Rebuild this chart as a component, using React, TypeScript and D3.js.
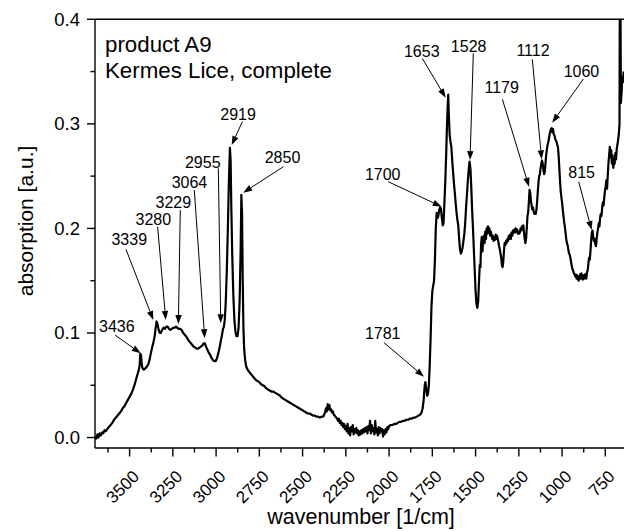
import React from 'react';
import * as d3 from 'd3';

// spectrum (wavenumber in 1/cm, absorption in a.u.)
const wavenumbers = [
  3700, 3693, 3686, 3680, 3673, 3666, 3659, 3652, 3645, 3638, 3630, 3620, 3610, 3600, 3590, 3580, 3570, 3560, 3550, 3540,
  3530, 3520, 3510, 3500, 3490, 3480, 3470, 3462, 3455, 3448, 3442, 3438, 3434, 3430, 3425, 3418, 3410, 3400, 3392, 3385,
  3378, 3370, 3362, 3355, 3350, 3344, 3338, 3332, 3326, 3320, 3312, 3304, 3296, 3288, 3280, 3272, 3264, 3256, 3248, 3240,
  3232, 3224, 3216, 3208, 3200, 3190, 3180, 3170, 3160, 3150, 3140, 3130, 3120, 3112, 3104, 3096, 3088, 3080, 3072, 3065,
  3058, 3050, 3042, 3034, 3026, 3018, 3010, 3002, 2995, 2988, 2980, 2972, 2966, 2960, 2955, 2950, 2944, 2938, 2932, 2926,
  2920, 2916, 2912, 2906, 2900, 2894, 2888, 2882, 2876, 2870, 2864, 2858, 2854, 2850, 2846, 2842, 2838, 2832, 2826, 2818,
  2810, 2800, 2790, 2780, 2770, 2760, 2750, 2740, 2730, 2720, 2710, 2700, 2690, 2680, 2670, 2660, 2650, 2640, 2630, 2620,
  2610, 2600, 2590, 2580, 2570, 2560, 2550, 2540, 2530, 2520, 2510, 2500, 2490, 2480, 2470, 2460, 2450, 2440, 2430, 2420,
  2410, 2400, 2390, 2380, 2370, 2365, 2360, 2355, 2350, 2345, 2340, 2335, 2330, 2325, 2320, 2310, 2300, 2295, 2290, 2285,
  2280, 2275, 2270, 2265, 2260, 2255, 2250, 2245, 2240, 2235, 2230, 2225, 2220, 2215, 2210, 2205, 2200, 2195, 2190, 2185,
  2180, 2175, 2170, 2165, 2160, 2155, 2150, 2145, 2140, 2135, 2130, 2125, 2120, 2115, 2110, 2105, 2100, 2095, 2090, 2085,
  2080, 2075, 2070, 2065, 2060, 2055, 2050, 2045, 2040, 2035, 2030, 2025, 2020, 2015, 2010, 2005, 2000, 1990, 1980, 1970,
  1960, 1950, 1940, 1930, 1920, 1910, 1900, 1890, 1880, 1870, 1860, 1850, 1840, 1830, 1820, 1812, 1806, 1800, 1794, 1790,
  1786, 1780, 1775, 1770, 1765, 1760, 1755, 1750, 1745, 1740, 1735, 1730, 1725, 1720, 1715, 1710, 1705, 1700, 1695, 1690,
  1685, 1680, 1675, 1670, 1665, 1661, 1658, 1655, 1650, 1645, 1640, 1635, 1630, 1625, 1620, 1615, 1610, 1605, 1600, 1595,
  1590, 1585, 1580, 1575, 1570, 1565, 1560, 1555, 1550, 1545, 1540, 1535, 1530, 1525, 1520, 1515, 1510, 1505, 1500, 1495,
  1490, 1485, 1480, 1476, 1472, 1468, 1464, 1460, 1456, 1452, 1448, 1444, 1440, 1436, 1432, 1428, 1424, 1420, 1416, 1412,
  1408, 1404, 1400, 1396, 1392, 1388, 1384, 1380, 1376, 1372, 1368, 1364, 1360, 1356, 1352, 1348, 1344, 1340, 1336, 1332,
  1328, 1324, 1320, 1316, 1312, 1308, 1304, 1300, 1296, 1292, 1288, 1284, 1280, 1276, 1272, 1268, 1264, 1260, 1256, 1252,
  1248, 1244, 1240, 1236, 1232, 1228, 1224, 1220, 1216, 1212, 1208, 1204, 1200, 1196, 1192, 1188, 1184, 1180, 1176, 1172,
  1168, 1164, 1160, 1156, 1152, 1148, 1144, 1140, 1136, 1132, 1128, 1124, 1120, 1116, 1112, 1108, 1104, 1100, 1096, 1092,
  1088, 1084, 1080, 1076, 1072, 1068, 1064, 1060, 1056, 1052, 1048, 1044, 1040, 1036, 1032, 1028, 1024, 1020, 1016, 1012,
  1008, 1004, 1000, 996, 992, 988, 984, 980, 976, 972, 968, 964, 960, 956, 952, 948, 944, 940, 936, 932,
  928, 924, 920, 916, 912, 908, 904, 900, 896, 892, 888, 884, 880, 876, 872, 868, 864, 860, 856, 852,
  848, 844, 840, 836, 832, 828, 824, 820, 816, 812, 808, 804, 800, 796, 792, 788, 784, 780, 776, 772,
  768, 764, 760, 756, 752, 748, 744, 740, 736, 732, 728, 724, 720, 716, 712, 708, 704, 700, 696, 692,
  688, 684, 680, 676, 672, 668, 666, 663, 660, 656, 652, 648, 644,
];

const absorption = [
  0.001, -0.001, 0.003, 0.000, 0.004, 0.002, 0.005, 0.004, 0.007, 0.006, 0.008, 0.010, 0.012, 0.014, 0.017, 0.019, 0.021, 0.023, 0.025, 0.028,
  0.030, 0.033, 0.036, 0.039, 0.042, 0.046, 0.051, 0.056, 0.060, 0.064, 0.069, 0.080, 0.079, 0.070, 0.066, 0.065, 0.066, 0.068, 0.070, 0.074,
  0.080, 0.086, 0.091, 0.097, 0.104, 0.111, 0.108, 0.103, 0.100, 0.100, 0.103, 0.105, 0.104, 0.106, 0.106, 0.104, 0.103, 0.104, 0.105, 0.105,
  0.106, 0.105, 0.104, 0.104, 0.103, 0.100, 0.098, 0.096, 0.093, 0.091, 0.089, 0.087, 0.086, 0.085, 0.085, 0.086, 0.087, 0.088, 0.090, 0.090,
  0.087, 0.084, 0.081, 0.079, 0.076, 0.074, 0.073, 0.073, 0.076, 0.080, 0.086, 0.093, 0.098, 0.104, 0.106, 0.112, 0.130, 0.160, 0.200, 0.245,
  0.277, 0.265, 0.220, 0.170, 0.135, 0.112, 0.101, 0.097, 0.097, 0.105, 0.130, 0.180, 0.232, 0.215, 0.150, 0.105, 0.085, 0.074, 0.068, 0.065,
  0.063, 0.061, 0.059, 0.057, 0.055, 0.054, 0.053, 0.051, 0.050, 0.049, 0.047, 0.046, 0.045, 0.044, 0.044, 0.043, 0.042, 0.041, 0.040, 0.038,
  0.037, 0.036, 0.035, 0.034, 0.033, 0.032, 0.031, 0.030, 0.029, 0.028, 0.027, 0.026, 0.025, 0.024, 0.023, 0.023, 0.022, 0.021, 0.021, 0.020,
  0.020, 0.019, 0.020, 0.020, 0.024, 0.028, 0.025, 0.032, 0.027, 0.031, 0.026, 0.027, 0.024, 0.025, 0.022, 0.020, 0.018, 0.016, 0.018, 0.014,
  0.016, 0.012, 0.014, 0.010, 0.013, 0.008, 0.011, 0.006, 0.013, 0.004, 0.009, 0.002, 0.010, 0.006, 0.012, 0.003, 0.008, 0.005, 0.009, 0.004,
  0.007, 0.002, 0.006, 0.003, 0.007, 0.004, 0.008, 0.005, 0.009, 0.006, 0.010, 0.004, 0.011, 0.007, 0.016, 0.004, 0.012, 0.006, 0.009, 0.003,
  0.016, 0.005, 0.008, 0.002, 0.010, 0.004, 0.009, 0.006, 0.008, 0.001, 0.007, 0.003, 0.008, 0.005, 0.010, 0.008, 0.011, 0.012, 0.012, 0.013,
  0.013, 0.014, 0.015, 0.015, 0.016, 0.016, 0.017, 0.017, 0.018, 0.018, 0.019, 0.019, 0.020, 0.021, 0.022, 0.024, 0.028, 0.036, 0.050, 0.053,
  0.048, 0.040, 0.042, 0.050, 0.070, 0.095, 0.125, 0.140, 0.145, 0.150, 0.170, 0.200, 0.215, 0.210, 0.212, 0.218, 0.220, 0.219, 0.210, 0.203,
  0.205, 0.225, 0.245, 0.270, 0.300, 0.318, 0.328, 0.310, 0.290, 0.283, 0.278, 0.265, 0.254, 0.243, 0.234, 0.224, 0.215, 0.208, 0.203, 0.190,
  0.180, 0.176, 0.178, 0.182, 0.188, 0.195, 0.205, 0.220, 0.232, 0.245, 0.255, 0.264, 0.258, 0.240, 0.218, 0.200, 0.180, 0.160, 0.140, 0.128,
  0.124, 0.130, 0.150, 0.165, 0.163, 0.185, 0.192, 0.178, 0.190, 0.193, 0.186, 0.197, 0.190, 0.200, 0.195, 0.202, 0.196, 0.200, 0.193, 0.197,
  0.194, 0.190, 0.193, 0.188, 0.191, 0.189, 0.194, 0.190, 0.193, 0.190, 0.187, 0.183, 0.180, 0.176, 0.172, 0.165, 0.163, 0.168, 0.178, 0.186,
  0.184, 0.188, 0.186, 0.190, 0.188, 0.193, 0.190, 0.194, 0.190, 0.196, 0.193, 0.198, 0.196, 0.199, 0.196, 0.200, 0.197, 0.199, 0.195, 0.197,
  0.195, 0.196, 0.200, 0.198, 0.202, 0.199, 0.203, 0.196, 0.190, 0.186, 0.190, 0.200, 0.212, 0.215, 0.225, 0.237, 0.234, 0.226, 0.222, 0.218,
  0.220, 0.216, 0.214, 0.215, 0.214, 0.218, 0.226, 0.236, 0.245, 0.250, 0.252, 0.258, 0.262, 0.265, 0.262, 0.256, 0.252, 0.254, 0.262, 0.270,
  0.275, 0.280, 0.282, 0.286, 0.290, 0.293, 0.295, 0.296, 0.292, 0.295, 0.290, 0.289, 0.286, 0.284, 0.283, 0.280, 0.278, 0.270, 0.258, 0.246,
  0.236, 0.230, 0.225, 0.218, 0.212, 0.206, 0.202, 0.196, 0.190, 0.186, 0.184, 0.180, 0.176, 0.175, 0.172, 0.168, 0.164, 0.161, 0.160, 0.157,
  0.156, 0.154, 0.156, 0.152, 0.155, 0.151, 0.150, 0.153, 0.156, 0.152, 0.157, 0.154, 0.151, 0.155, 0.152, 0.156, 0.153, 0.152, 0.158, 0.160,
  0.166, 0.172, 0.170, 0.178, 0.188, 0.196, 0.198, 0.192, 0.188, 0.190, 0.185, 0.183, 0.190, 0.196, 0.200, 0.205, 0.202, 0.210, 0.214, 0.212,
  0.220, 0.225, 0.222, 0.230, 0.236, 0.240, 0.246, 0.238, 0.250, 0.262, 0.270, 0.278, 0.268, 0.275, 0.262, 0.270, 0.258, 0.265, 0.262, 0.272,
  0.266, 0.276, 0.280, 0.285, 0.290, 0.300, 0.450, 0.450, 0.320, 0.330, 0.345, 0.340, 0.350,
];

const xTickValues = [3500, 3250, 3000, 2750, 2500, 2250, 2000, 1750, 1500, 1250, 1000, 750];
const yTickValues = [0.0, 0.1, 0.2, 0.3, 0.4];

// peak labels: text anchor (wavenumber, absorption), arrow tail and arrow head
const peakLabels = ['3436', '3339', '3280', '3229', '3064', '2955', '2919', '2850', '1781', '1700', '1653', '1528', '1179', '1112', '1060', '815'];
const labelAt = [
  [3574, 0.1005], [3502, 0.184], [3363, 0.2033], [3247, 0.2192], [3154, 0.2387], [3077, 0.2578], [2873, 0.3037], [2616, 0.2623],
  [2037, 0.094], [2037, 0.2463], [1811, 0.3642], [1540, 0.3687], [1349, 0.3292], [1168, 0.3649], [888, 0.3451], [887, 0.2479],
];
const arrowFrom = [
  [3584, 0.098], [3521, 0.180], [3338, 0.2016], [3207, 0.2176], [3126, 0.2367], [2987, 0.2575], [2848, 0.3021], [2611, 0.259],
  [2029, 0.0907], [2005, 0.2447], [1808, 0.3627], [1513, 0.3675], [1345, 0.3235], [1172, 0.3617], [877, 0.3429], [904, 0.2447],
];
const arrowTo = [
  [3436, 0.0806], [3363, 0.1124], [3291, 0.1124], [3218, 0.1086], [3066, 0.0949], [2973, 0.1093], [2910, 0.2798], [2843, 0.2342],
  [1798, 0.0582], [1696, 0.2208], [1673, 0.325], [1532, 0.2654], [1191, 0.2399], [1118, 0.2661], [1057, 0.3011], [829, 0.1985],
];

const W = 624;
const H = 531;
const left = 95;
const right = 624;
const top = 19.3;
const bottom = 448;
const font = '"Liberation Sans", Arial, sans-serif';

export default function App() {
  const x = d3.scaleLinear().domain([3700, 642]).range([left, right]);
  const y = d3.scaleLinear().domain([-0.01, 0.4]).range([bottom, top]);

  const points = wavenumbers.map((w, i) => [w, absorption[i]] as [number, number]);
  const line = d3.line<[number, number]>()
    .x(d => x(d[0]))
    .y(d => y(d[1]));

  const xMinor = d3.range(3625, 642, -125).filter(v => !xTickValues.includes(v));
  const yMinor = [0.05, 0.15, 0.25, 0.35];

  const arrows = peakLabels.map((lab, i) => {
    const x1 = x(arrowFrom[i][0]), y1 = y(arrowFrom[i][1]);
    const x2 = x(arrowTo[i][0]), y2 = y(arrowTo[i][1]);
    const ang = Math.atan2(y2 - y1, x2 - x1);
    const len = 9, half = 3.2;
    const bx = x2 - len * Math.cos(ang), by = y2 - len * Math.sin(ang);
    const p1 = [bx + half * Math.sin(ang), by - half * Math.cos(ang)];
    const p2 = [bx - half * Math.sin(ang), by + half * Math.cos(ang)];
    return { lab, i, x1, y1, x2, y2, bx, by, head: `M${x2},${y2}L${p1[0]},${p1[1]}L${p2[0]},${p2[1]}Z` };
  });

  return (
    <svg width={W} height={H} style={{ position: 'absolute', left: 0, top: 0, background: '#fff' }} fontFamily={font}>
      <defs>
        <clipPath id="plotArea">
          <rect x={left} y={top} width={right - left} height={bottom - top} />
        </clipPath>
      </defs>

      <path d={line(points) || ''} fill="none" stroke="#000" strokeWidth={2.2} strokeLinejoin="round" clipPath="url(#plotArea)" />

      {/* frame */}
      <line x1={left} x2={left} y1={top} y2={bottom} stroke="#000" strokeWidth={1.4} />
      <line x1={left} x2={right} y1={top} y2={top} stroke="#000" strokeWidth={1.4} />
      <line x1={left} x2={right} y1={bottom} y2={bottom} stroke="#000" strokeWidth={1.4} />

      {/* y axis */}
      {yTickValues.map(v => (
        <g key={v}>
          <line x1={left - 8} x2={left} y1={y(v)} y2={y(v)} stroke="#000" strokeWidth={1.4} />
          <text x={80} y={y(v)} dy="0.35em" textAnchor="end" fontSize={18.5}>{v.toFixed(1)}</text>
        </g>
      ))}
      {yMinor.map(v => (
        <line key={v} x1={left - 4.5} x2={left} y1={y(v)} y2={y(v)} stroke="#000" strokeWidth={1.4} />
      ))}

      {/* x axis */}
      {xTickValues.map(v => (
        <g key={v}>
          <line x1={x(v)} x2={x(v)} y1={bottom} y2={bottom + 8.5} stroke="#000" strokeWidth={1.4} />
          <text transform={`translate(${x(v) + 10.5},${477.5}) rotate(-45)`} textAnchor="end" fontSize={17}>{v}</text>
        </g>
      ))}
      {xMinor.map(v => (
        <line key={v} x1={x(v)} x2={x(v)} y1={bottom} y2={bottom + 4.5} stroke="#000" strokeWidth={1.4} />
      ))}

      <text x={361} y={524} textAnchor="middle" fontSize={21.5}>wavenumber [1/cm]</text>
      <text transform={`translate(32.5,221) rotate(-90)`} textAnchor="middle" fontSize={21}>absorption [a.u.]</text>

      <text x={105} y={52} fontSize={22.3}>product A9</text>
      <text x={105} y={78} fontSize={22.3}>Kermes Lice, complete</text>

      {/* peak annotations */}
      {arrows.map(a => (
        <g key={a.lab}>
          <text x={x(labelAt[a.i][0])} y={y(labelAt[a.i][1])} textAnchor="middle" fontSize={16}>{a.lab}</text>
          <line x1={a.x1} y1={a.y1} x2={a.bx} y2={a.by} stroke="#000" strokeWidth={1} />
          <path d={a.head} fill="#000" />
        </g>
      ))}
    </svg>
  );
}
